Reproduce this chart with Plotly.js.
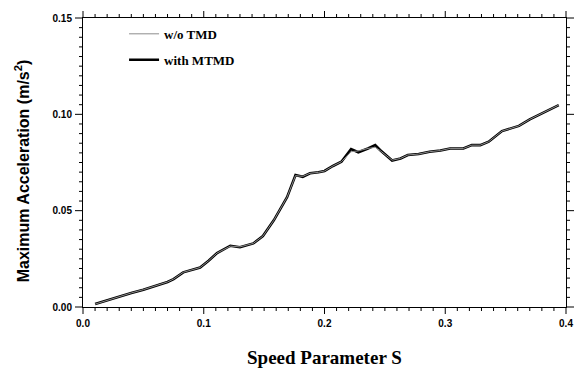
<!DOCTYPE html>
<html>
<head>
<meta charset="utf-8">
<script src="https://cdn.plot.ly/plotly-3.0.1.min.js"></script>
<style>html,body{margin:0;padding:0;background:#fff;}#chart{width:577px;height:372px;}</style>
</head>
<body>
<div id="chart"></div>
<script>
// Speed parameter S
const speedS = [0.01, 0.02, 0.03, 0.04, 0.05, 0.06, 0.07, 0.075, 0.083, 0.097, 0.104, 0.111, 0.122, 0.130, 0.141, 0.149, 0.158, 0.169, 0.176, 0.182, 0.188, 0.195, 0.200, 0.207, 0.214, 0.222, 0.228, 0.236, 0.242, 0.246, 0.256, 0.263, 0.269, 0.278, 0.287, 0.296, 0.304, 0.315, 0.322, 0.329, 0.336, 0.347, 0.354, 0.361, 0.370, 0.394];
// Maximum acceleration, without TMD
const accNoTMD = [0.0015, 0.0035, 0.0055, 0.0073, 0.009, 0.011, 0.013, 0.0145, 0.018, 0.0205, 0.024, 0.028, 0.0316, 0.0312, 0.033, 0.0368, 0.045, 0.057, 0.0682, 0.0678, 0.0694, 0.0699, 0.0706, 0.0732, 0.0754, 0.0806, 0.0810, 0.0823, 0.0829, 0.0812, 0.0762, 0.0771, 0.0789, 0.0794, 0.0806, 0.0812, 0.0823, 0.0823, 0.0840, 0.0840, 0.0858, 0.0913, 0.0927, 0.0940, 0.0974, 0.1048];
// Maximum acceleration, with MTMD
const accMTMD = [0.0015, 0.0035, 0.0055, 0.0073, 0.009, 0.011, 0.013, 0.0145, 0.018, 0.0205, 0.024, 0.028, 0.0318, 0.031, 0.033, 0.0368, 0.045, 0.057, 0.0685, 0.0676, 0.0694, 0.0699, 0.0706, 0.0732, 0.0754, 0.0820, 0.0803, 0.0823, 0.0840, 0.0815, 0.0760, 0.0771, 0.0789, 0.0794, 0.0806, 0.0812, 0.0823, 0.0823, 0.0840, 0.0840, 0.0858, 0.0913, 0.0927, 0.0940, 0.0974, 0.1048];
const seriesNames = ['w/o TMD', 'with MTMD'];
const xTitle = 'Speed Parameter S';
const yTitle = 'Maximum Acceleration (m/s<sup>2</sup>)';
const xRange = [0, 0.4], yRange = [0, 0.15];
const xTickStep = 0.1, xMinorStep = 0.01;
const yTickStep = 0.05, yMinorStep = 0.005;

const sans = 'Liberation Sans, Arial, sans-serif';
const serif = 'Liberation Serif, Times New Roman, serif';

const W = 577, H = 372;
const margin = {l: 83, r: 11, t: 18, b: 65};
const plotW = W - margin.l - margin.r, plotH = H - margin.t - margin.b;

const traces = [
  {x: speedS, y: accMTMD, mode: 'lines', name: seriesNames[1], legendgroup: 'b', legendrank: 2,
   line: {color: '#000000', width: 2.6}},
  {x: speedS, y: accNoTMD, mode: 'lines', name: seriesNames[0], legendgroup: 'a', legendrank: 1,
   line: {color: '#8c8c8c', width: 1}}
];

// tick marks on all four sides (fractions of the axis domain, from the axis ranges)
const shapes = [];
function tickFractions(range, step) {
  const out = [];
  const n = Math.round((range[1] - range[0]) / step);
  for (let i = 0; i <= n; i++) out.push({f: i / n, i: i});
  return out;
}
const xMinorPerMajor = Math.round(xTickStep / xMinorStep);
const yMinorPerMajor = Math.round(yTickStep / yMinorStep);
const tickLine = {color: '#000000', width: 1};
tickFractions(xRange, xMinorStep).forEach(t => {
  const len = ((t.i % xMinorPerMajor === 0) ? 7 : 4) / plotH;
  shapes.push({type: 'line', xref: 'paper', yref: 'paper', x0: t.f, x1: t.f, y0: 0, y1: -len, line: tickLine, layer: 'above'});
  shapes.push({type: 'line', xref: 'paper', yref: 'paper', x0: t.f, x1: t.f, y0: 1, y1: 1 + len, line: tickLine, layer: 'above'});
});
tickFractions(yRange, yMinorStep).forEach(t => {
  const len = ((t.i % yMinorPerMajor === 0) ? 8 : 4) / plotW;
  shapes.push({type: 'line', xref: 'paper', yref: 'paper', y0: t.f, y1: t.f, x0: 0, x1: -len, line: tickLine, layer: 'above'});
  shapes.push({type: 'line', xref: 'paper', yref: 'paper', y0: t.f, y1: t.f, x0: 1, x1: 1 + len, line: tickLine, layer: 'above'});
});

const layout = {
  width: W, height: H,
  margin: margin,
  paper_bgcolor: '#fff', plot_bgcolor: '#fff',
  showlegend: true,
  legend: {x: 0.085, y: 0.997, xanchor: 'left', yanchor: 'top', bgcolor: 'rgba(0,0,0,0)',
           tracegroupgap: 6, traceorder: 'grouped',
           font: {family: serif, size: 13, color: '#000', weight: 'bold'}},
  xaxis: {
    showgrid: false, zeroline: false, showline: true, linecolor: 'black', linewidth: 1, mirror: true,
    ticks: 'outside', tickcolor: 'rgba(0,0,0,0)', ticklen: 7,
    tickfont: {family: sans, size: 10, color: '#000', weight: 'bold'},
    range: xRange, dtick: xTickStep, tickformat: '.1f'
  },
  yaxis: {
    showgrid: false, zeroline: false, showline: true, linecolor: 'black', linewidth: 1, mirror: true,
    ticks: 'outside', tickcolor: 'rgba(0,0,0,0)', ticklen: 8,
    tickfont: {family: sans, size: 10, color: '#000', weight: 'bold'},
    range: yRange, dtick: yTickStep, tickformat: '.2f'
  },
  shapes: shapes,
  annotations: [
    {text: xTitle, xref: 'paper', yref: 'paper', x: 0.5, y: -0.176, xanchor: 'center', yanchor: 'middle',
     showarrow: false, font: {family: serif, size: 19, color: '#000', weight: 'bold'}},
    {text: yTitle, xref: 'paper', yref: 'paper', x: -0.126, y: 0.47, xanchor: 'center', yanchor: 'middle',
     textangle: -90, showarrow: false, font: {family: sans, size: 16, color: '#000', weight: 'bold'}}
  ]
};

Plotly.newPlot('chart', traces, layout, {displayModeBar: false});
</script>
</body>
</html>
